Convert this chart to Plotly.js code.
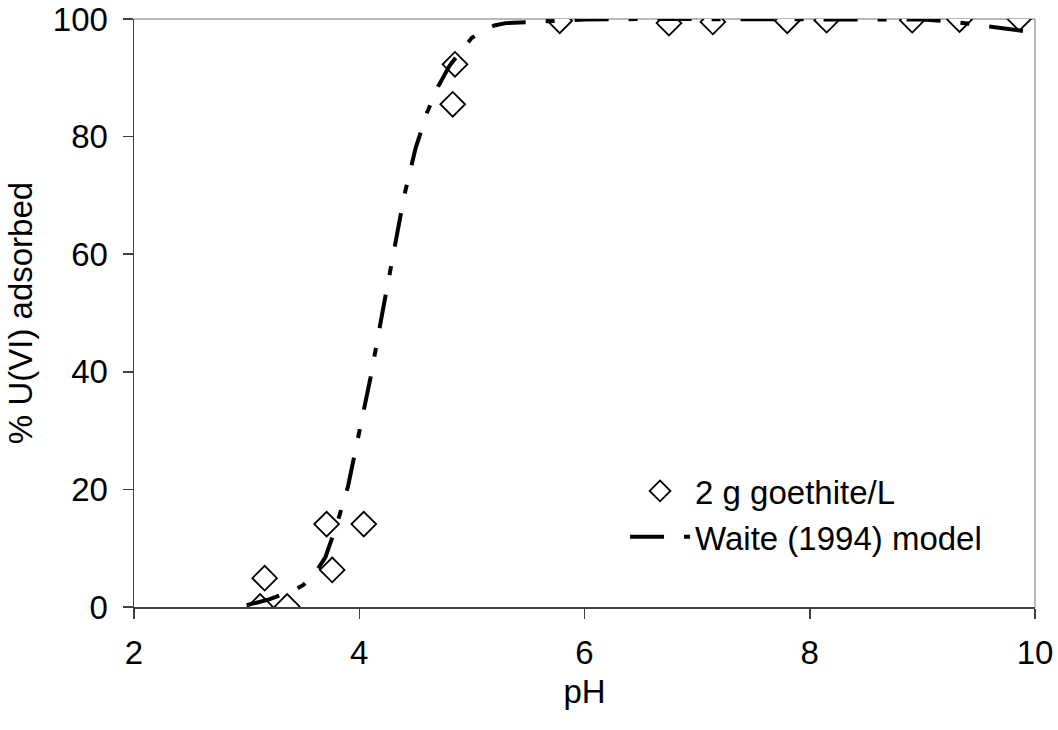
<!DOCTYPE html>
<html>
<head>
<meta charset="utf-8">
<script src="https://cdn.plot.ly/plotly-3.0.1.min.js"></script>
<style>html,body{margin:0;padding:0;background:#fff;}#chart{width:1058px;height:730px;}</style>
</head>
<body>
<div id="chart"></div>
<script>
// Measured data: 2 g goethite/L
const dataPH  = [3.12, 3.16, 3.36, 3.71, 3.76, 4.04, 4.83, 4.85, 5.78, 6.75, 7.14, 7.80, 8.15, 8.91, 9.33, 9.86];
const dataAds = [0.1, 4.9, 0.1, 14.1, 6.3, 14.1, 85.5, 92.3, 99.7, 99.3, 99.5, 99.7, 99.8, 99.8, 99.9, 100.1];

// Waite (1994) model curve
const modelPH  = [3.0, 3.1, 3.2, 3.3, 3.4, 3.5, 3.6, 3.7, 3.8, 3.9, 4.0, 4.1, 4.2, 4.3, 4.4, 4.5, 4.6, 4.7, 4.8, 4.9, 5.0, 5.1, 5.2, 5.3, 5.5, 5.75, 6.0, 6.5, 7.0, 7.5, 8.0, 8.5, 9.0, 9.25, 9.5, 9.75, 10.0];
const modelAds = [0.3, 0.8, 1.3, 2.0, 2.6, 3.7, 5.5, 8.5, 14, 20.5, 30, 39, 49.5, 60, 70, 78, 84, 88.5, 92, 94.5, 96.8, 98, 98.9, 99.3, 99.5, 99.8, 99.9, 100, 100, 100, 100, 100, 99.9, 99.6, 99.0, 98.4, 97.7];

const xTicks = [2, 4, 6, 8, 10];
const yTicks = [0, 20, 40, 60, 80, 100];

const FONT = 'Liberation Sans, Arial, sans-serif';
const FS = 33;

const traces = [
  {
    x: dataPH, y: dataAds, type: 'scatter', mode: 'markers',
    name: '2 g goethite/L',
    marker: {symbol: 'diamond', size: 19, color: '#ffffff', line: {color: '#000000', width: 1.8}}
  },
  {
    x: modelPH, y: modelAds, type: 'scatter', mode: 'lines',
    name: 'Waite (1994) model',
    line: {color: '#000000', width: 4, dash: '34px,20px,9px,20px'}
  }
];

const axisCommon = {
  showgrid: false, zeroline: false, showline: true,
  linecolor: '#404040', linewidth: 1.5,
  ticks: 'outside', ticklen: 10, tickwidth: 1.5, tickcolor: '#404040',
  tickfont: {family: FONT, size: FS, color: '#000'}
};

const layout = {
  width: 1058, height: 730,
  margin: {l: 134, r: 23, t: 19, b: 123},
  paper_bgcolor: '#ffffff', plot_bgcolor: '#ffffff',
  font: {family: FONT, size: FS, color: '#000'},
  showlegend: true,
  legend: {
    x: 0.545, y: 0.245, xanchor: 'left', yanchor: 'top',
    bgcolor: 'rgba(0,0,0,0)', borderwidth: 0,
    font: {family: FONT, size: FS, color: '#000'},
    itemwidth: 60
  },
  xaxis: Object.assign({}, axisCommon, {
    range: [2, 10], tickvals: xTicks, ticktext: xTicks.map(String),
    ticklabelstandoff: 6,
    title: {text: 'pH', font: {family: FONT, size: FS, color: '#000'}, standoff: 10}
  }),
  yaxis: Object.assign({}, axisCommon, {
    range: [0, 100], tickvals: yTicks, ticktext: yTicks.map(String),
    ticklabelstandoff: 8,
    title: {text: '% U(VI) adsorbed', font: {family: FONT, size: FS, color: '#000'}, standoff: 10}
  }),
  shapes: [
    {type: 'line', xref: 'paper', yref: 'paper', x0: 0, x1: 1, y0: 1, y1: 1, line: {color: '#a0a0a0', width: 1.5}, layer: 'below'},
    {type: 'line', xref: 'paper', yref: 'paper', x0: 1, x1: 1, y0: 0, y1: 1, line: {color: '#a0a0a0', width: 1.5}, layer: 'below'}
  ]
};

Plotly.newPlot('chart', traces, layout, {displayModeBar: false, staticPlot: true});
</script>
</body>
</html>
